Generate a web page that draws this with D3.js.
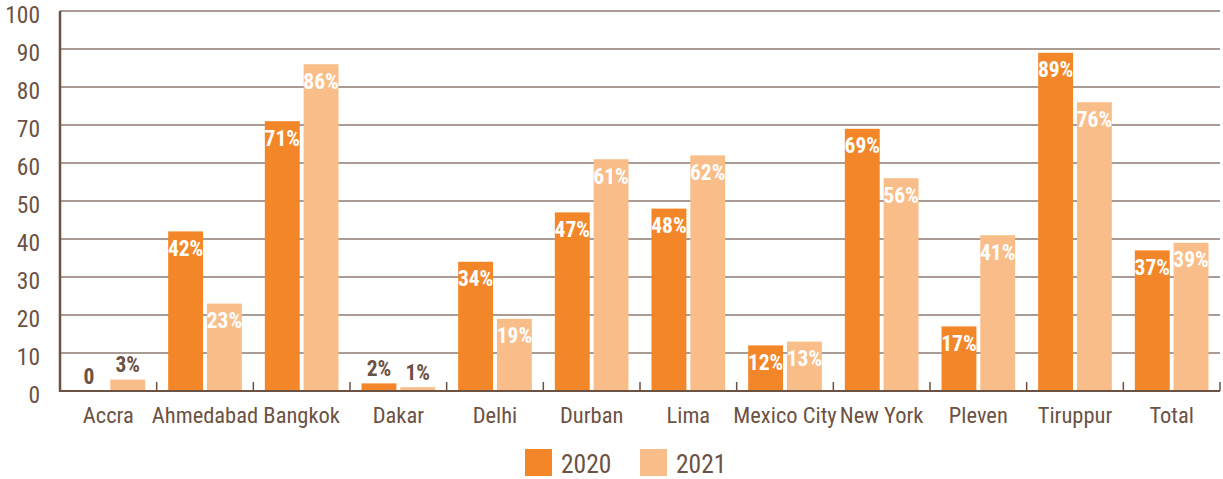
<!DOCTYPE html>
<html>
<head>
<meta charset="utf-8">
<script src="https://cdn.jsdelivr.net/npm/d3@7"></script>
<style>
  body { margin: 0; background: #fff; }
  text { font-family: "Roboto Condensed", "Roboto", sans-serif; }
</style>
</head>
<body>
<svg id="chart" width="1223" height="479"></svg>
<script>
// chart data
const cities = ["Accra", "Ahmedabad", "Bangkok", "Dakar", "Delhi", "Durban", "Lima",
    "Mexico City", "New York", "Pleven", "Tiruppur", "Total"];
const years = ["2020", "2021"];
const values2020 = [0, 42, 71, 2, 34, 47, 48, 12, 69, 17, 89, 37];
const values2021 = [3, 23, 86, 1, 19, 61, 62, 13, 56, 41, 76, 39];
const yTicks = [0, 10, 20, 30, 40, 50, 60, 70, 80, 90, 100];

const colors = { "2020": "#f38628", "2021": "#f9bd8a" };
const brown = "#6b5243";

const svg = d3.select("#chart");
const plotLeft = 60, plotRight = 1220, plotTop = 11, plotBottom = 391;

const x = d3.scaleBand().domain(cities).range([plotLeft, plotRight]).padding(0);
const xSub = d3.scaleBand().domain(years)
    .range([11.5, x.bandwidth() - 11.5]).paddingInner(0.1);
const y = d3.scaleLinear().domain([0, 100]).range([plotBottom, plotTop]);

// gridlines
svg.append("g").selectAll("line")
    .data(yTicks.filter(d => d > 0))
    .join("line")
    .attr("x1", plotLeft).attr("x2", plotRight)
    .attr("y1", d => y(d)).attr("y2", d => y(d))
    .attr("stroke", "#8d7b70").attr("stroke-width", 1.5);

// y tick labels (sit a little under their gridline)
svg.append("g").selectAll("text")
    .data(yTicks)
    .join("text")
    .attr("x", 40).attr("y", d => y(d) + 3.5)
    .attr("text-anchor", "end").attr("dy", "0.36em")
    .attr("font-size", 23.5).attr("fill", brown)
    .text(d => d);

// bars
const rows = cities.map((c, i) => ({ city: c, "2020": values2020[i], "2021": values2021[i] }));
const groups = svg.append("g").selectAll("g")
    .data(rows)
    .join("g")
    .attr("transform", d => `translate(${x(d.city)},0)`);

groups.selectAll("rect")
    .data(d => years.map(k => ({ key: k, value: d[k] })))
    .join("rect")
    .attr("x", d => xSub(d.key))
    .attr("width", xSub.bandwidth())
    .attr("y", d => y(d.value))
    .attr("height", d => plotBottom - y(d.value))
    .attr("fill", d => colors[d.key]);

// bottom axis line with ticks pointing up
svg.append("line")
    .attr("x1", plotLeft).attr("x2", plotRight)
    .attr("y1", plotBottom).attr("y2", plotBottom)
    .attr("stroke", brown).attr("stroke-width", 2);
svg.append("g").selectAll("line")
    .data(cities.map(c => x(c)).concat([plotRight]))
    .join("line")
    .attr("x1", d => d).attr("x2", d => d)
    .attr("y1", plotBottom).attr("y2", plotBottom - 9)
    .attr("stroke", brown).attr("stroke-width", 1.5);

// left axis
svg.append("line")
    .attr("x1", plotLeft).attr("x2", plotLeft)
    .attr("y1", plotTop).attr("y2", plotBottom + 1)
    .attr("stroke", brown).attr("stroke-width", 2.5);

// value labels, small ones sit above the bar
groups.selectAll("text.val")
    .data(d => years.map(k => ({ key: k, value: d[k] })))
    .join("text")
    .attr("class", "val")
    .attr("x", d => xSub(d.key) + xSub.bandwidth() / 2)
    .attr("y", d => d.value >= 5 ? y(d.value) + 17 : y(d.value) - 7.5)
    .attr("dy", d => d.value >= 5 ? "0.35em" : 0)
    .attr("text-anchor", "middle")
    .attr("font-size", 21.5).attr("font-weight", "bold")
    .attr("fill", d => d.value >= 5 ? "#fff" : brown)
    .text(d => d.value === 0 ? "0" : d.value + "%");

// x labels
svg.append("g").selectAll("text")
    .data(cities)
    .join("text")
    .attr("x", d => x(d) + x.bandwidth() / 2).attr("y", 423)
    .attr("text-anchor", "middle")
    .attr("font-size", 22.5).attr("fill", brown)
    .text(d => d);

// legend
const legendX = [525, 640];
const legend = svg.append("g").selectAll("g")
    .data(years)
    .join("g")
    .attr("transform", (d, i) => `translate(${legendX[i]},449)`);
legend.append("rect")
    .attr("width", 27).attr("height", 27)
    .attr("fill", d => colors[d]);
legend.append("text")
    .attr("x", 36).attr("y", 24)
    .attr("font-size", 25.5).attr("fill", brown)
    .text(d => d);
</script>
</body>
</html>
